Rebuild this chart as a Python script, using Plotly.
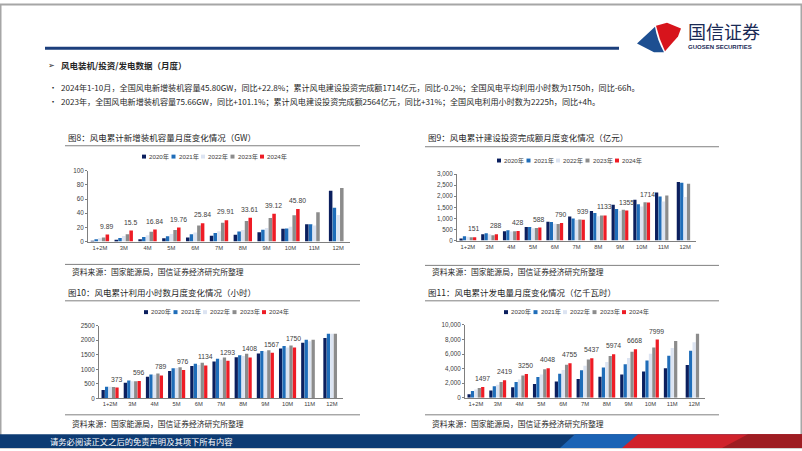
import plotly.graph_objects as go

W, H = 802, 451

cats = ["1+2M", "3M", "4M", "5M", "6M", "7M", "8M", "9M", "10M", "11M", "12M"]
years = ["2020年", "2021年", "2022年", "2023年", "2024年"]
colors = ["#0B1F5E", "#1F6DB9", "#DCE4F2", "#8C8C8C", "#EE1C25"]

# 图8 风电累计新增装机容量 (GW)
cap_2020 = [1.0, 2.4, 3.4, 4.6, 5.8, 8.3, 9.7, 13.0, 18.0, 24.5, 71.67]
cap_2021 = [3.2, 5.1, 6.5, 7.4, 10.2, 12.0, 14.3, 16.7, 18.5, 24.5, 47.57]
cap_2022 = [4.6, 7.9, 9.0, 10.8, 12.9, 14.5, 16.2, 19.2, 21.0, 22.5, 37.63]
cap_2023 = [5.6, 10.2, 13.9, 16.2, 22.8, 26.4, 29.1, 33.3, 37.0, 41.2, 75.66]
cap_2024 = [9.89, 15.5, 16.84, 19.76, 25.84, 29.91, 33.61, 39.12, 45.80, None, None]
cap_2024_labels = ["9.89", "15.5", "16.84", "19.76", "25.84", "29.91", "33.61", "39.12", "45.80", "", ""]

# 图9 风电累计建设投资完成额 (亿元)
inv_2020 = [89, 284, 418, 612, 851, 1090, 1328, 1612, 1836, 2164, 2642]
inv_2021 = [194, 328, 463, 612, 836, 1000, 1239, 1418, 1642, 1985, 2612]
inv_2022 = [170, 280, 410, 560, 760, 930, 1100, 1330, 1540, 1760, 1960]
inv_2023 = [149, 239, 418, 567, 746, 955, 1134, 1388, 1731, 2030, 2564]
inv_2024 = [151, 288, 428, 588, 790, 939, 1133, 1355, 1714, None, None]
inv_2024_labels = ["151", "288", "428", "588", "790", "939", "1133", "1355", "1714", "", ""]

# 图10 风电累计利用小时数 (小时)
hrs_2020 = [293, 540, 743, 946, 1115, 1273, 1419, 1543, 1712, 1914, 2072]
hrs_2021 = [405, 619, 822, 1036, 1194, 1363, 1486, 1633, 1802, 2016, 2218]
hrs_2022 = [400, 590, 815, 1050, 1150, 1330, 1460, 1610, 1750, 1960, 2221]
hrs_2023 = [394, 590, 856, 1070, 1228, 1408, 1532, 1655, 1816, 2016, 2225]
hrs_2024 = [373, 596, 789, 976, 1134, 1293, 1408, 1567, 1750, None, None]
hrs_2024_labels = ["373", "596", "789", "976", "1134", "1293", "1408", "1567", "1750", "", ""]

# 图11 风电累计发电量 (亿千瓦时)
gen_2020 = [495, 991, 1441, 1892, 2252, 2568, 2883, 3198, 3604, 4054, 4505]
gen_2021 = [946, 1577, 2162, 2838, 3288, 3784, 4144, 4595, 5135, 5766, 6441]
gen_2022 = [1150, 1800, 2500, 3200, 3800, 4400, 4900, 5450, 6050, 6850, 7624]
gen_2023 = [1351, 2162, 3063, 3919, 4550, 5270, 5721, 6306, 6892, 7793, 8800]
gen_2024 = [1497, 2419, 3250, 4048, 4755, 5437, 5974, 6668, 7999, None, None]
gen_2024_labels = ["1497", "2419", "3250", "4048", "4755", "5437", "5974", "6668", "7999", "", ""]

FONT = "Liberation Sans, Noto Sans CJK SC, sans-serif"
CJK = "Noto Sans CJK SC, sans-serif"
BARGAP = 0.22
GROUPGAP = 0.05


def px(x):
    return x / W


def py(y):
    return 1 - y / H


charts = [
    dict(series=[cap_2020, cap_2021, cap_2022, cap_2023, cap_2024], labels=cap_2024_labels,
         xdom=(88, 350), ydom=(241.3, 169.3), yr=(0, 100), dt=20, fmt="d",
         title="图8：风电累计新增装机容量月度变化情况（GW）", tx=66, ty=135,
         leg=(142, 155), box=(65, 360), line1=144, line2=264.5, src_y=272),
    dict(series=[inv_2020, inv_2021, inv_2022, inv_2023, inv_2024], labels=inv_2024_labels,
         xdom=(457, 696), ydom=(240.3, 172.7), yr=(0, 3000), dt=500, fmt=",",
         title="图9：风电累计建设投资完成额月度变化情况（亿元）", tx=426, ty=135,
         leg=(497, 159), box=(425, 719), line1=145, line2=265.5, src_y=272),
    dict(series=[hrs_2020, hrs_2021, hrs_2022, hrs_2023, hrs_2024], labels=hrs_2024_labels,
         xdom=(99, 343), ydom=(400.7, 326.7), yr=(0, 2500), dt=500, fmt="d",
         title="图10：风电累计利用小时数月度变化情况（小时）", tx=66, ty=293,
         leg=(144, 313), box=(65, 360), line1=301.5, line2=417.3, src_y=426),
    dict(series=[gen_2020, gen_2021, gen_2022, gen_2023, gen_2024], labels=gen_2024_labels,
         xdom=(465, 705), ydom=(400, 326), yr=(0, 10000), dt=2000, fmt=",",
         title="图11：风电累计发电量月度变化情况（亿千瓦时）", tx=426, ty=293,
         leg=(504, 313), box=(425, 719), line1=301.5, line2=417.3, src_y=426),
]

fig = go.Figure()
layout = dict(
    width=W, height=H, margin=dict(l=0, r=0, t=0, b=0),
    paper_bgcolor="white", plot_bgcolor="white",
    barmode="group", bargap=BARGAP, bargroupgap=GROUPGAP,
    showlegend=False, font=dict(family=FONT, size=6, color="#404040"),
)
shapes = []
annotations = []

for i, c in enumerate(charts):
    n = i + 1
    xa = "x" if n == 1 else f"x{n}"
    ya = "y" if n == 1 else f"y{n}"
    for k, (vals, yr_name, col) in enumerate(zip(c["series"], years, colors)):
        fig.add_trace(go.Bar(x=cats, y=vals, name=yr_name, marker=dict(color=col, line=dict(width=0)),
                             xaxis=xa, yaxis=ya))
    # data labels of the 2024 series, placed over the red (5th) bar of each group
    cell = (c["xdom"][1] - c["xdom"][0]) / len(cats)
    slot = (1 - BARGAP) / 5
    red_shift = 2 * slot * cell
    for cat, v, lab in zip(cats, c["series"][4], c["labels"]):
        if v is None:
            continue
        annotations.append(dict(x=cat, y=v, xref=xa, yref=ya, text=lab, showarrow=False,
                                xanchor="center", yanchor="middle", xshift=red_shift - 0.5, yshift=8.5,
                                font=dict(size=6.8, color="#404040", family=FONT)))
    layout["xaxis" if n == 1 else f"xaxis{n}"] = dict(
        domain=[px(c["xdom"][0]), px(c["xdom"][1])], anchor=ya, type="category",
        range=[-0.5, 10.5], showline=True, linecolor="#7F7F7F", linewidth=1,
        ticks="", tickfont=dict(size=5.8, color="#404040"), showgrid=False, fixedrange=True)
    layout["yaxis" if n == 1 else f"yaxis{n}"] = dict(
        domain=[py(c["ydom"][0]), py(c["ydom"][1])], anchor=xa, range=list(c["yr"]),
        dtick=c["dt"], tickformat=c["fmt"], showline=True, linecolor="#7F7F7F", linewidth=1,
        ticks="outside", ticklen=2, tickcolor="#7F7F7F",
        tickfont=dict(size=6.3, color="#404040"), showgrid=False, zeroline=False, fixedrange=True)
    # title
    annotations.append(dict(x=px(c["tx"]), y=py(c["ty"]), xref="paper", yref="paper",
                            text=c["title"], showarrow=False, xanchor="left", yanchor="middle",
                            font=dict(size=8.5, color="#262626", family=CJK)))
    # lines
    shapes.append(dict(type="line", xref="paper", yref="paper", x0=px(c["box"][0]), x1=px(c["box"][1]),
                       y0=py(c["line1"]), y1=py(c["line1"]), line=dict(color="#808080", width=1)))
    shapes.append(dict(type="line", xref="paper", yref="paper", x0=px(c["box"][0]), x1=px(c["box"][1]),
                       y0=py(c["line2"]), y1=py(c["line2"]), line=dict(color="#808080", width=1)))
    annotations.append(dict(x=px(c["box"][0] + 5), y=py(c["src_y"]), xref="paper", yref="paper",
                            text="资料来源：国家能源局，国信证券经济研究所整理", showarrow=False,
                            xanchor="left", yanchor="middle", font=dict(size=7.8, color="#262626", family=CJK)))
    # legend
    lx, ly = c["leg"]
    for k, (yr_name, col) in enumerate(zip(years, colors)):
        x0 = lx + k * 29.5
        shapes.append(dict(type="rect", xref="paper", yref="paper", x0=px(x0), x1=px(x0 + 4),
                           y0=py(ly + 2), y1=py(ly - 2), fillcolor=col, line=dict(width=0)))
        annotations.append(dict(x=px(x0 + 5), y=py(ly), xref="paper", yref="paper", text=yr_name,
                                showarrow=False, xanchor="left", yanchor="middle",
                                font=dict(size=6.2, color="#404040", family=FONT)))

# slide frame
shapes.append(dict(type="rect", xref="paper", yref="paper", x0=px(0.5), x1=px(801.5), y0=py(0.5), y1=py(450.5),
                   line=dict(color="#A6A6A6", width=2), layer="below"))
# header line
shapes.append(dict(type="line", xref="paper", yref="paper", x0=px(45), x1=px(619), y0=py(45), y1=py(45),
                   line=dict(color="#1C3F7C", width=3)))
# logo
shapes.append(dict(type="path", xref="paper", yref="paper",
                   path=f"M {px(637)},{py(40)} L {px(655)},{py(23)} Q {px(657)},{py(36)} {px(664)},{py(49)} L {px(654)},{py(49)} Z",
                   fillcolor="#1D4F91", line=dict(width=0)))
shapes.append(dict(type="path", xref="paper", yref="paper",
                   path=f"M {px(656)},{py(22)} L {px(667)},{py(19)} L {px(681)},{py(25)} L {px(678)},{py(33)} L {px(665)},{py(48)} Q {px(659)},{py(35)} {px(656)},{py(22)} Z",
                   fillcolor="#D7141C", line=dict(width=0)))
annotations.append(dict(x=px(686), y=py(27), xref="paper", yref="paper", text="国信证券", showarrow=False,
                        xanchor="left", yanchor="middle", font=dict(size=18, color="#1A2A55", family=CJK)))
annotations.append(dict(x=px(686), y=py(44), xref="paper", yref="paper", text="<b>GUOSEN SECURITIES</b>",
                        showarrow=False, xanchor="left", yanchor="middle",
                        font=dict(size=6, color="#1A2A55", family="Liberation Sans, sans-serif")))
# heading and bullets
annotations.append(dict(x=px(46), y=py(62), xref="paper", yref="paper", text="➢", showarrow=False,
                        xanchor="left", yanchor="middle", font=dict(size=8, color="#262626", family="DejaVu Sans")))
annotations.append(dict(x=px(59), y=py(62), xref="paper", yref="paper", text="<b>风电装机/投资/发电数据（月度）</b>",
                        showarrow=False, xanchor="left", yanchor="middle", font=dict(size=8.5, color="#262626", family=CJK)))
bullets = [
    "2024年1-10月，全国风电新增装机容量45.80GW，同比+22.8%；累计风电建设投资完成额1714亿元，同比-0.2%；全国风电平均利用小时数为1750h，同比-66h。",
    "2023年，全国风电新增装机容量75.66GW，同比+101.1%；累计风电建设投资完成额2564亿元，同比+31%；全国风电利用小时数为2225h，同比+4h。",
]
for j, b in enumerate(bullets):
    yy = 85 + j * 14
    annotations.append(dict(x=px(47), y=py(yy), xref="paper", yref="paper", text="•", showarrow=False,
                            xanchor="left", yanchor="middle", font=dict(size=8.1, color="#262626", family=CJK)))
    annotations.append(dict(x=px(59), y=py(yy), xref="paper", yref="paper", text=b, showarrow=False,
                            xanchor="left", yanchor="middle", font=dict(size=8.1, color="#262626", family=CJK)))
# footer
shapes.append(dict(type="rect", xref="paper", yref="paper", x0=0, x1=1, y0=0, y1=py(437),
                   fillcolor="#0D3B73", line=dict(width=0)))
shapes.append(dict(type="path", xref="paper", yref="paper",
                   path=f"M {px(560)},{py(451)} L {px(575)},{py(437)} L {px(640)},{py(437)} L {px(625)},{py(451)} Z",
                   fillcolor="#1B63B5", line=dict(width=0)))
shapes.append(dict(type="path", xref="paper", yref="paper",
                   path=f"M {px(622)},{py(451)} L {px(638)},{py(437)} L {px(802)},{py(437)} L {px(802)},{py(451)} Z",
                   fillcolor="#D0222B", line=dict(width=0)))
shapes.append(dict(type="path", xref="paper", yref="paper",
                   path=f"M {px(722)},{py(451)} L {px(748)},{py(437)} L {px(802)},{py(437)} L {px(802)},{py(451)} Z",
                   fillcolor="#9E1D22", line=dict(width=0)))
annotations.append(dict(x=px(48), y=py(444), xref="paper", yref="paper", text="请务必阅读正文之后的免责声明及其项下所有内容",
                        showarrow=False, xanchor="left", yanchor="middle", font=dict(size=8.3, color="white", family=CJK)))

layout["shapes"] = shapes
layout["annotations"] = annotations
fig.update_layout(**layout)
fig.write_html("out.html", config={"displayModeBar": False})
